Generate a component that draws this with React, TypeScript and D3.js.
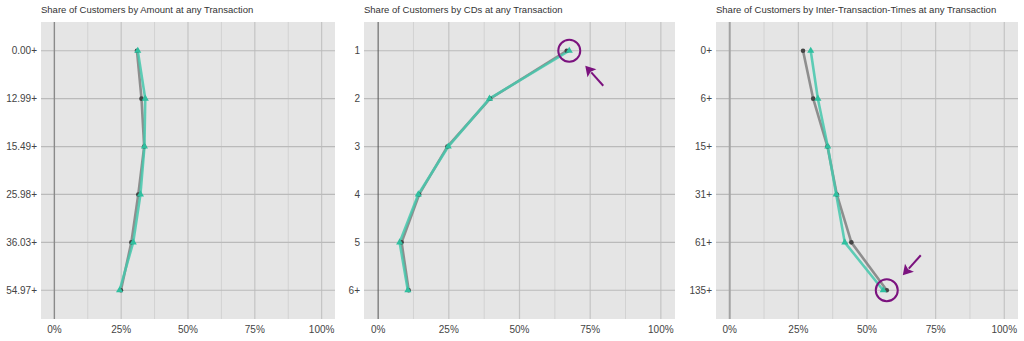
import React from "react";
import * as d3 from "d3";

const amountCats = ["0.00+", "12.99+", "15.49+", "25.98+", "36.03+", "54.97+"];
const amountGrey = [30.9, 32.6, 33.6, 31.4, 28.8, 24.9];
const amountTeal = [31.2, 34.0, 33.7, 32.2, 29.5, 24.4];

const cdCats = ["1", "2", "3", "4", "5", "6+"];
const cdGrey = [66.7, 39.6, 24.5, 14.5, 8.3, 10.8];
const cdTeal = [67.6, 39.4, 24.8, 14.2, 7.6, 10.5];

const ittCats = ["0+", "6+", "15+", "31+", "61+", "135+"];
const ittGrey = [26.7, 30.4, 35.6, 39.0, 44.3, 57.2];
const ittTeal = [29.5, 32.1, 35.7, 38.8, 41.9, 55.9];

const xTicks = [0, 25, 50, 75, 100];
const xMinor = [12.5, 37.5, 62.5, 87.5];

type Panel = {
  title: string;
  cats: string[];
  grey: number[];
  teal: number[];
  left: number;
  right: number;
  zeroColor: string;
  zeroWidth: number;
  highlight?: { series: "grey" | "teal"; index: number; arrowDx: number; arrowDy: number };
};

const panels: Panel[] = [
  { title: "Share of Customers by Amount at any Transaction", cats: amountCats, grey: amountGrey, teal: amountTeal, left: 41, right: 335, zeroColor: "#8a8a8a", zeroWidth: 1.4 },
  { title: "Share of Customers by CDs at any Transaction", cats: cdCats, grey: cdGrey, teal: cdTeal, left: 364, right: 675, zeroColor: "#555", zeroWidth: 1, highlight: { series: "teal", index: 0, arrowDx: 1, arrowDy: 1 } },
  { title: "Share of Customers by Inter-Transaction-Times at any Transaction", cats: ittCats, grey: ittGrey, teal: ittTeal, left: 716, right: 1018, zeroColor: "#a3a3a3", zeroWidth: 2, highlight: { series: "grey", index: 5, arrowDx: 1, arrowDy: -1 } },
];

const TOP = 22;
const BOTTOM = 319;
const FONT = "'Liberation Sans', Arial, sans-serif";
const GREY = "#7f7f7f";
const TEAL = "#45c8ad";
const PURPLE = "#7b127e";

function PanelView({ p }: { p: Panel }) {
  const x = d3.scaleLinear().domain([-5, 105]).range([p.left, p.right]);
  const y = d3.scalePoint<string>().domain(p.cats).range([TOP, BOTTOM]).padding(0.6);
  const line = d3.line<number>().x((v) => x(v)).y((_, i) => y(p.cats[i]) as number);
  const tri = d3.symbol().type(d3.symbolTriangle).size(22)();
  let hl: React.ReactNode = null;
  if (p.highlight) {
    const h = p.highlight;
    const vals = h.series === "grey" ? p.grey : p.teal;
    const cx = x(vals[h.index]);
    const cy = y(p.cats[h.index]) as number;
    const r = 11;
    const sx = h.arrowDx, sy = h.arrowDy;
    const tipX = cx + sx * 16, tipY = cy + sy * 15;
    const tailX = cx + sx * 34, tailY = cy + sy * 35;
    const ang = Math.atan2(tipY - tailY, tipX - tailX);
    const hlen = 10, hw = 6;
    const bx = tipX - hlen * Math.cos(ang), by = tipY - hlen * Math.sin(ang);
    const px = -Math.sin(ang), py = Math.cos(ang);
    hl = (
      <g>
        <circle cx={cx} cy={cy} r={r} fill="none" stroke={PURPLE} strokeWidth={2} />
        <line x1={tailX} y1={tailY} x2={bx + 1 * Math.cos(ang)} y2={by + 1 * Math.sin(ang)} stroke={PURPLE} strokeWidth={2} />
        <polygon points={`${tipX},${tipY} ${bx + px * hw},${by + py * hw} ${bx + 2 * Math.cos(ang)},${by + 2 * Math.sin(ang)} ${bx - px * hw},${by - py * hw}`} fill={PURPLE} />
      </g>
    );
  }
  return (
    <g>
      <text x={p.left} y={13} fontSize={9.5} fill="#333" fontFamily={FONT}>{p.title}</text>
      <rect x={p.left} y={TOP} width={p.right - p.left} height={BOTTOM - TOP} fill="#e5e5e5" />
      {xMinor.map((t) => (
        <line key={"m" + t} x1={x(t)} x2={x(t)} y1={TOP} y2={BOTTOM} stroke="#d2d2d2" strokeWidth={1} />
      ))}
      {xTicks.filter((t) => t !== 0).map((t) => (
        <line key={"g" + t} x1={x(t)} x2={x(t)} y1={TOP} y2={BOTTOM} stroke="#c4c4c4" strokeWidth={1.2} />
      ))}
      {p.cats.map((c) => (
        <line key={"h" + c} x1={p.left} x2={p.right} y1={y(c)} y2={y(c)} stroke="#bababa" strokeWidth={1.2} />
      ))}
      <line x1={x(0)} x2={x(0)} y1={TOP} y2={BOTTOM} stroke={p.zeroColor} strokeWidth={p.zeroWidth} />
      {p.cats.map((c) => (
        <text key={"yl" + c} x={p.left - 4} y={(y(c) as number) + 3.5} textAnchor="end" fontSize={10} fill="#444" fontFamily={FONT}>{c}</text>
      ))}
      {xTicks.map((t) => (
        <text key={"xl" + t} x={x(t)} y={333} textAnchor="middle" fontSize={10} fill="#444" fontFamily={FONT}>{t + "%"}</text>
      ))}
      <path d={line(p.grey) || ""} fill="none" stroke={GREY} strokeWidth={2.6} strokeOpacity={0.85} strokeLinejoin="round" />
      <path d={line(p.teal) || ""} fill="none" stroke={TEAL} strokeWidth={2.6} strokeOpacity={0.85} strokeLinejoin="round" />
      {p.grey.map((v, i) => (
        <circle key={"gp" + i} cx={x(v)} cy={y(p.cats[i])} r={2.3} fill="#444" />
      ))}
      {p.teal.map((v, i) => (
        <path key={"tp" + i} d={tri || ""} transform={`translate(${x(v)},${y(p.cats[i])})`} fill="#2fbf9f" />
      ))}
      {hl}
    </g>
  );
}

export default function App() {
  return (
    <svg width={1024} height={341} style={{ position: "absolute", left: 0, top: 0, background: "#fff" }}>
      <rect width={1024} height={341} fill="#fff" />
      {panels.map((p, i) => (
        <PanelView key={i} p={p} />
      ))}
    </svg>
  );
}
